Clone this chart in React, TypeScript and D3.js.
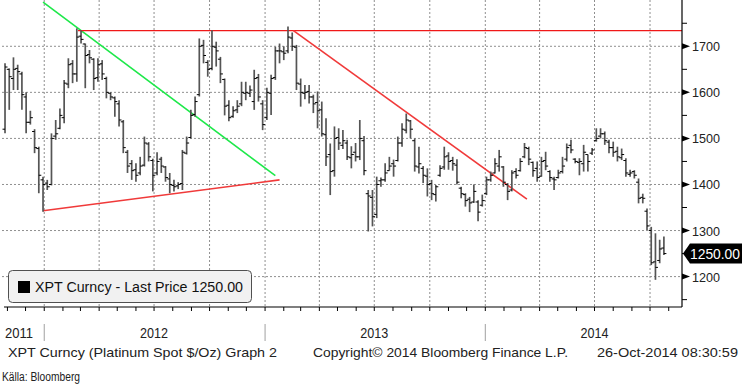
import React from "react";
import * as d3 from "d3";

// weekly OHLC, platinum spot, first bar week of 28-Oct-2011, last bar 24-Oct-2014
const firstWeek = new Date(2011, 9, 28);

const opens = [
  1520, 1650, 1630, 1652, 1640, 1590, 1535, 1515, 1478, 1410, 1403, 1400, 1505, 1522, 1545, 1618,
  1662, 1640, 1722, 1705, 1682, 1672, 1632, 1662, 1630, 1598, 1588, 1575, 1536, 1470, 1445, 1432,
  1425, 1442, 1488, 1452, 1425, 1455, 1438, 1412, 1398, 1397, 1402, 1468, 1502, 1552, 1595, 1702,
  1665, 1652, 1698, 1672, 1628, 1572, 1548, 1562, 1575, 1598, 1598, 1580, 1632, 1575, 1545, 1598,
  1632, 1690, 1688, 1690, 1718, 1698, 1618, 1598, 1602, 1590, 1578, 1562, 1508, 1465, 1430, 1502,
  1485, 1490, 1458, 1470, 1460, 1495, 1380, 1372, 1335, 1408, 1410, 1430, 1445, 1452, 1490, 1518,
  1538, 1495, 1438, 1435, 1418, 1402, 1378, 1420, 1438, 1462, 1452, 1442, 1392, 1378, 1368, 1362,
  1362, 1355, 1380, 1410, 1425, 1440, 1438, 1400, 1388, 1428, 1430, 1460, 1478, 1448, 1435, 1418,
  1452, 1428, 1412, 1415, 1428, 1455, 1485, 1455, 1448, 1445, 1465, 1468, 1495, 1505, 1510, 1492,
  1480, 1472, 1458, 1452, 1422, 1428, 1405, 1372, 1342, 1300, 1232, 1235, 1262,
];

const highs = [
  1663, 1652, 1676, 1660, 1645, 1600, 1560, 1520, 1482, 1417, 1410, 1511, 1540, 1565, 1627, 1674,
  1670, 1739, 1735, 1706, 1692, 1674, 1674, 1670, 1634, 1600, 1591, 1583, 1540, 1475, 1453, 1446,
  1460, 1504, 1492, 1456, 1470, 1460, 1440, 1425, 1410, 1405, 1475, 1504, 1562, 1591, 1717, 1714,
  1670, 1735, 1710, 1677, 1630, 1583, 1570, 1583, 1623, 1623, 1615, 1649, 1640, 1583, 1610, 1638,
  1699, 1706, 1700, 1743, 1730, 1703, 1630, 1616, 1616, 1595, 1602, 1580, 1544, 1489, 1526, 1522,
  1518, 1497, 1483, 1490, 1540, 1505, 1388, 1388, 1417, 1415, 1446, 1460, 1454, 1504, 1533, 1554,
  1540, 1500, 1482, 1440, 1435, 1410, 1399, 1442, 1482, 1470, 1460, 1455, 1395, 1381, 1373, 1400,
  1366, 1378, 1417, 1428, 1457, 1475, 1440, 1403, 1431, 1435, 1457, 1490, 1482, 1450, 1450, 1460,
  1471, 1431, 1417, 1432, 1460, 1489, 1497, 1457, 1457, 1486, 1465, 1479, 1522, 1522, 1515, 1497,
  1493, 1482, 1478, 1457, 1432, 1431, 1413, 1380, 1348, 1308, 1294, 1280, 1287,
];

const lows = [
  1511, 1562, 1605, 1605, 1562, 1511, 1530, 1468, 1381, 1341, 1388, 1398, 1497, 1520, 1533, 1609,
  1620, 1623, 1706, 1609, 1663, 1605, 1623, 1627, 1587, 1583, 1547, 1526, 1468, 1425, 1410, 1406,
  1420, 1439, 1450, 1385, 1420, 1425, 1406, 1381, 1385, 1390, 1388, 1465, 1500, 1547, 1591, 1663,
  1634, 1648, 1656, 1620, 1550, 1537, 1545, 1555, 1570, 1583, 1590, 1562, 1580, 1518, 1540, 1551,
  1627, 1663, 1670, 1685, 1690, 1605, 1569, 1585, 1576, 1555, 1522, 1504, 1440, 1377, 1417, 1475,
  1477, 1453, 1435, 1450, 1453, 1420, 1298, 1309, 1327, 1395, 1406, 1430, 1417, 1450, 1482, 1511,
  1500, 1428, 1424, 1403, 1374, 1366, 1363, 1417, 1432, 1432, 1430, 1400, 1370, 1352, 1340, 1360,
  1320, 1352, 1377, 1406, 1424, 1428, 1395, 1366, 1385, 1413, 1428, 1457, 1442, 1417, 1406, 1417,
  1431, 1406, 1388, 1413, 1424, 1450, 1468, 1446, 1420, 1428, 1428, 1464, 1493, 1500, 1486, 1468,
  1460, 1450, 1453, 1417, 1417, 1413, 1359, 1359, 1301, 1225, 1193, 1229, 1247,
];

const closes = [
  1655, 1634, 1650, 1645, 1595, 1535, 1545, 1480, 1420, 1400, 1395, 1500, 1510, 1550, 1620, 1660,
  1640, 1720, 1715, 1680, 1675, 1630, 1660, 1640, 1600, 1590, 1580, 1540, 1480, 1440, 1430, 1420,
  1440, 1490, 1460, 1420, 1450, 1440, 1415, 1400, 1395, 1400, 1470, 1490, 1550, 1580, 1700, 1680,
  1650, 1700, 1690, 1640, 1570, 1545, 1560, 1570, 1600, 1600, 1605, 1630, 1590, 1530, 1600, 1630,
  1690, 1690, 1685, 1720, 1700, 1620, 1600, 1600, 1590, 1575, 1560, 1510, 1460, 1428, 1500, 1490,
  1495, 1460, 1465, 1460, 1500, 1430, 1375, 1330, 1400, 1410, 1425, 1440, 1440, 1490, 1520, 1540,
  1520, 1440, 1445, 1420, 1400, 1380, 1395, 1435, 1460, 1450, 1445, 1405, 1380, 1365, 1360, 1385,
  1340, 1365, 1410, 1420, 1445, 1460, 1405, 1385, 1425, 1420, 1450, 1480, 1455, 1430, 1415, 1450,
  1440, 1415, 1410, 1425, 1440, 1480, 1475, 1450, 1450, 1470, 1450, 1475, 1500, 1510, 1495, 1480,
  1470, 1460, 1465, 1425, 1425, 1420, 1370, 1370, 1310, 1230, 1220, 1260, 1250,
];

const lastPrice = 1250;
const yMajor = [1200, 1300, 1400, 1500, 1600, 1700];
const yMinor = [1150, 1250, 1350, 1450, 1550, 1650, 1750];
const yearLabels = ["2011", "2012", "2013", "2014"];

// hand-drawn trend lines: [date, price] endpoints
const resistance: [Date, number][] = [[new Date(2012, 1, 26), 1734], [new Date(2014, 10, 23), 1734]];
const greenLine: [Date, number][] = [[new Date(2011, 11, 30), 1796], [new Date(2013, 0, 18), 1419]];
const supportLine: [Date, number][] = [[new Date(2011, 11, 30), 1343], [new Date(2013, 0, 25), 1410]];
const fallingLine: [Date, number][] = [[new Date(2013, 1, 17), 1734], [new Date(2014, 2, 11), 1368]];

const plotL = 2, plotR = 682, plotT = 0, plotB = 307;
const font = "'Liberation Sans', Arial, sans-serif";

export default function App() {
  const dates = closes.map((_, i) => d3.timeDay.offset(firstWeek, 7 * i));

  const x = d3
    .scaleTime()
    .domain([new Date(2011, 9, 23), new Date(2014, 10, 23)])
    .range([plotL, plotR]);
  const y = d3.scaleLinear().domain([1134, 1800.5]).range([plotB, plotT]);

  const quarters = d3.timeMonth.every(3)!.range(new Date(2011, 10, 1), new Date(2014, 10, 23));
  const months = d3.timeMonth.range(new Date(2011, 10, 1), new Date(2014, 10, 23));
  const years = [2011, 2012, 2013, 2014];

  const line = d3
    .line<[Date, number]>()
    .x((d) => x(d[0]))
    .y((d) => y(d[1]));

  const tagY = y(lastPrice);

  return (
    <svg
      width={746}
      height={385}
      style={{ position: "absolute", left: 0, top: 0, background: "#fff" }}
      fontFamily={font}
    >
      {/* grid */}
      <g stroke="#8f8f8f" strokeDasharray="2,2" strokeWidth={1}>
        {yMajor.map((v) => (
          <line key={v} x1={plotL} x2={plotR} y1={y(v)} y2={y(v)} />
        ))}
        {quarters.map((d) => (
          <line key={+d} x1={x(d)} x2={x(d)} y1={plotT} y2={plotB} />
        ))}
      </g>

      {/* trend lines */}
      <path d={line(greenLine)!} stroke="#1ee84a" strokeWidth={1.6} fill="none" />
      <path d={line(supportLine)!} stroke="#f03a3a" strokeWidth={1.6} fill="none" />
      <path d={line(resistance)!} stroke="#f01818" strokeWidth={1.4} fill="none" />
      <path d={line(fallingLine)!} stroke="#f03a3a" strokeWidth={1.6} fill="none" />

      {/* OHLC bars */}
      <g>
        {dates.map((d, i) => {
          const cx = x(d);
          const top = Math.max(highs[i], opens[i], closes[i]);
          const bot = Math.min(lows[i], opens[i], closes[i]);
          return (
            <g key={i}>
              <line x1={cx} x2={cx} y1={y(top)} y2={y(bot)} stroke="#555" strokeWidth={1.7} />
              <line x1={cx - 2.5} x2={cx} y1={y(opens[i])} y2={y(opens[i])} stroke="#000" />
              <line x1={cx} x2={cx + 2.5} y1={y(closes[i])} y2={y(closes[i])} stroke="#000" />
            </g>
          );
        })}
      </g>

      {/* legend */}
      <rect x={8.5} y={270.5} width={243} height={32} rx={4} fill="#f1f1f1" stroke="#505050" />
      <rect x={18} y={281} width={12} height={12} fill="#000" />
      <text x={35} y={292} fontSize={14} fill="#111" textLength={208} lengthAdjust="spacingAndGlyphs">
        XPT Curncy - Last Price 1250.00
      </text>

      {/* right axis */}
      <line x1={plotR} x2={plotR} y1={plotT} y2={plotB} stroke="#000" strokeWidth={1.2} />
      {yMinor.map((v) => (
        <line key={v} x1={plotR} x2={plotR + 5} y1={y(v)} y2={y(v)} stroke="#000" />
      ))}
      {yMajor.map((v) => (
        <g key={v}>
          <path d={`M${plotR},${y(v) - 3}L${plotR + 8},${y(v)}L${plotR},${y(v) + 3}Z`} fill="#000" />
          <text x={692} y={y(v) + 5} fontSize={13} fill="#222" textLength={28} lengthAdjust="spacingAndGlyphs">
            {v}
          </text>
        </g>
      ))}
      <path
        d={`M${plotR + 1},${tagY}L${plotR + 8},${tagY - 10}L742,${tagY - 10}L742,${tagY + 10}L${plotR + 8},${tagY + 10}Z`}
        fill="#000"
      />
      <text x={690} y={tagY + 5} fontSize={14} fill="#fff" textLength={50} lengthAdjust="spacingAndGlyphs">
        {lastPrice.toFixed(2)}
      </text>

      {/* bottom axis */}
      <line x1={4} x2={plotR} y1={plotB} y2={plotB} stroke="#000" strokeWidth={1.2} />
      {months.map((d) => (
        <line key={+d} x1={x(d)} x2={x(d)} y1={plotB} y2={plotB + 4} stroke="#000" />
      ))}
      {years.slice(1).map((yr) => (
        <line
          key={yr}
          x1={x(new Date(yr, 0, 1))}
          x2={x(new Date(yr, 0, 1))}
          y1={324}
          y2={341}
          stroke="#a0a0a0"
        />
      ))}
      {years.map((yr, i) => {
        const mid = i === 0 ? 5 : x(new Date(yr, 6, 1));
        return (
          <text
            key={yr}
            x={mid}
            y={338}
            fontSize={14}
            fill="#222"
            textAnchor={i === 0 ? "start" : "middle"}
            textLength={28}
            lengthAdjust="spacingAndGlyphs"
          >
            {yearLabels[i]}
          </text>
        );
      })}

      {/* footer */}
      <text x={8} y={357} fontSize={13} fill="#222" textLength={269} lengthAdjust="spacingAndGlyphs">
        XPT Curncy (Platinum Spot  $/Oz) Graph 2
      </text>
      <text x={313} y={357} fontSize={13} fill="#222" textLength={255} lengthAdjust="spacingAndGlyphs">
        Copyright© 2014 Bloomberg Finance L.P.
      </text>
      <text x={597} y={357} fontSize={13} fill="#222" textLength={141} lengthAdjust="spacingAndGlyphs">
        26-Oct-2014 08:30:59
      </text>
      <text x={2} y={381} fontSize={12} fill="#222" textLength={78} lengthAdjust="spacingAndGlyphs">
        Källa: Bloomberg
      </text>
    </svg>
  );
}
